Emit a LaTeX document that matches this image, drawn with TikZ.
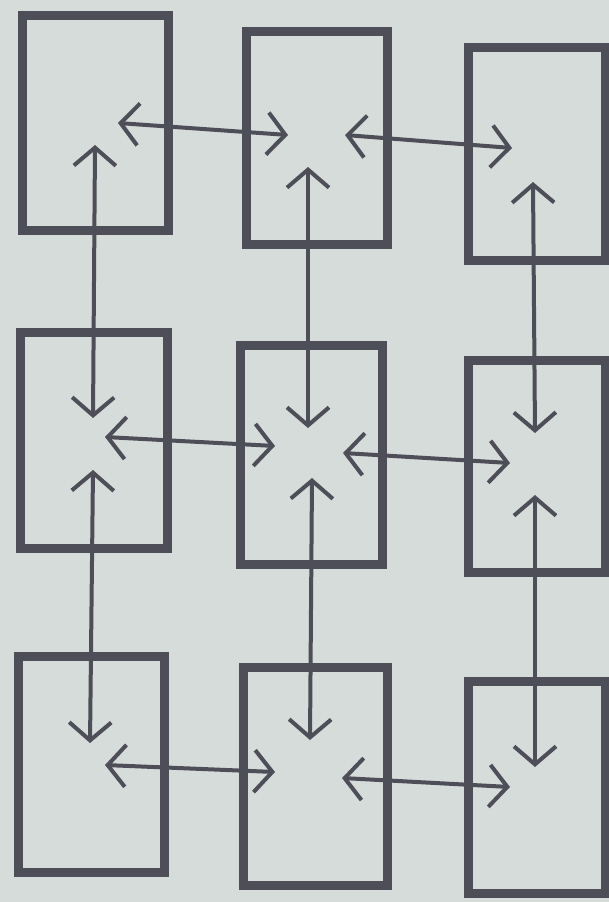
\documentclass[tikz,border=0pt]{standalone}
\usetikzlibrary{arrows.meta}
\definecolor{paper}{RGB}{214,220,218}
\definecolor{ink}{RGB}{78,78,88}
\begin{document}
\begin{tikzpicture}[x=1pt,y=-1pt,
  cell/.style={draw=ink,line width=9pt,inner sep=0pt,outer sep=0pt,rectangle},
  link/.style={draw=ink,line width=4pt,
    {Straight Barb[length=18pt,width=42pt]}-{Straight Barb[length=18pt,width=42pt]}}]
\fill[paper] (0,0) rectangle (609,902);
\useasboundingbox (0,0) rectangle (609,902);
% boxes
\node[cell,minimum width=146pt,minimum height=215pt] (b11) at (95,122.5) {};
\node[cell,minimum width=141pt,minimum height=213pt] (b12) at (316.5,137.5) {};
\node[cell,minimum width=137pt,minimum height=213pt] (b13) at (536.5,153.5) {};
\node[cell,minimum width=147pt,minimum height=216pt] (b21) at (93.5,440) {};
\node[cell,minimum width=142pt,minimum height=219pt] (b22) at (311,454.5) {};
\node[cell,minimum width=137pt,minimum height=212pt] (b23) at (536.5,466) {};
\node[cell,minimum width=146pt,minimum height=216pt] (b31) at (91,764) {};
\node[cell,minimum width=144pt,minimum height=218pt] (b32) at (315,776) {};
\node[cell,minimum width=137pt,minimum height=212pt] (b33) at (536.5,787) {};
% horizontal links
\draw[link] ([shift={(23,0.5)}]b11.center) -- ([shift={(-28.5,-2.5)}]b12.center);
\draw[link] ([shift={(28.5,-2.5)}]b12.center) -- ([shift={(-24.5,-5.5)}]b13.center);
\draw[link] ([shift={(11.5,-3)}]b21.center) -- ([shift={(-36,-8.5)}]b22.center);
\draw[link] ([shift={(32,-1.5)}]b22.center) -- ([shift={(-26.5,-3)}]b23.center);
\draw[link] ([shift={(14,1)}]b31.center) -- ([shift={(-40,-4)}]b32.center);
\draw[link] ([shift={(27,2)}]b32.center) -- ([shift={(-26.5,0)}]b33.center);
% vertical links
\draw[link] ([shift={(0,22.5)}]b11.center) -- ([shift={(-0.5,-22)}]b21.center);
\draw[link] ([shift={(-0.5,30)}]b21.center) -- ([shift={(-1,-21)}]b31.center);
\draw[link] ([shift={(-8.5,29.5)}]b12.center) -- ([shift={(-3,-26.5)}]b22.center);
\draw[link] ([shift={(1,23.5)}]b22.center) -- ([shift={(-5,-36)}]b32.center);
\draw[link] ([shift={(-3.5,28.5)}]b13.center) -- ([shift={(-1.5,-33)}]b23.center);
\draw[link] ([shift={(-1.5,29)}]b23.center) -- ([shift={(-1.5,-20)}]b33.center);
\end{tikzpicture}
\end{document}
